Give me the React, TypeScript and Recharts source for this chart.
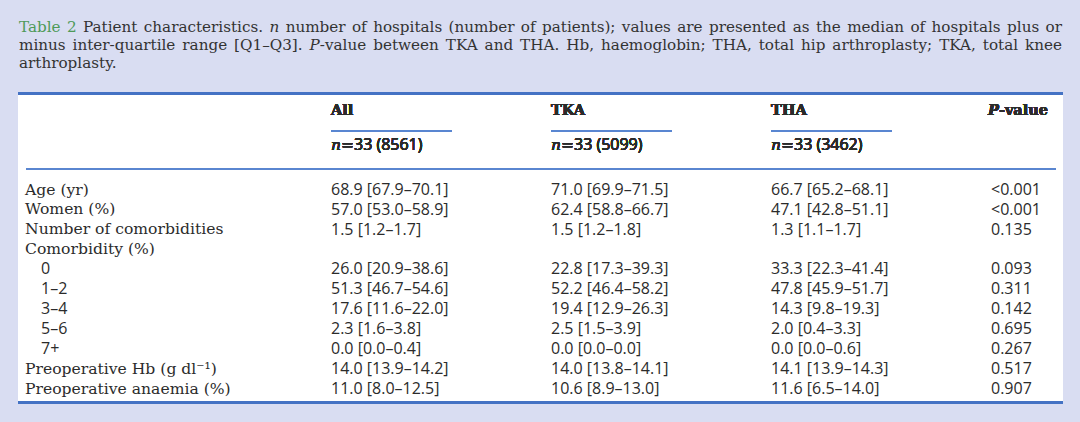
import { ScatterChart, Scatter, XAxis, YAxis } from "recharts";

// rows of the table (y categories)
const ROWS = [
  "Age (yr)",
  "Women (%)",
  "Number of comorbidities",
  "Comorbidity (%)",
  "0",
  "1–2",
  "3–4",
  "5–6",
  "7+",
  "Preoperative Hb (g dl⁻¹)",
  "Preoperative anaemia (%)",
];
const SUB_ROWS = ["0", "1–2", "3–4", "5–6", "7+"];

// columns (x categories)
const COLUMNS = ["All", "TKA", "THA", "P-value"];
const HOSPITALS = [33, 33, 33];
const PATIENTS = [8561, 5099, 3462];

// median [Q1, Q3]
type Iqr = [number, number, number] | null;
const ALL: Iqr[] = [
  [68.9, 67.9, 70.1],
  [57.0, 53.0, 58.9],
  [1.5, 1.2, 1.7],
  null,
  [26.0, 20.9, 38.6],
  [51.3, 46.7, 54.6],
  [17.6, 11.6, 22.0],
  [2.3, 1.6, 3.8],
  [0.0, 0.0, 0.4],
  [14.0, 13.9, 14.2],
  [11.0, 8.0, 12.5],
];
const TKA: Iqr[] = [
  [71.0, 69.9, 71.5],
  [62.4, 58.8, 66.7],
  [1.5, 1.2, 1.8],
  null,
  [22.8, 17.3, 39.3],
  [52.2, 46.4, 58.2],
  [19.4, 12.9, 26.3],
  [2.5, 1.5, 3.9],
  [0.0, 0.0, 0.0],
  [14.0, 13.8, 14.1],
  [10.6, 8.9, 13.0],
];
const THA: Iqr[] = [
  [66.7, 65.2, 68.1],
  [47.1, 42.8, 51.1],
  [1.3, 1.1, 1.7],
  null,
  [33.3, 22.3, 41.4],
  [47.8, 45.9, 51.7],
  [14.3, 9.8, 19.3],
  [2.0, 0.4, 3.3],
  [0.0, 0.0, 0.6],
  [14.1, 13.9, 14.3],
  [11.6, 6.5, 14.0],
];
const P_VALUES = ["<0.001", "<0.001", "0.135", "", "0.093", "0.311", "0.142", "0.695", "0.267", "0.517", "0.907"];

const SERIF = "'DejaVu Serif', serif";
const SANS = "'Open Sans', sans-serif";
const INK = "#2b2b2b";
const BLUE = "#4472c4";
const RULE = "#5a86d0";
const BG = "#d9ddf2";

const fmt = (v: Iqr) => (v ? `${v[0].toFixed(1)} [${v[1].toFixed(1)}–${v[2].toFixed(1)}]` : "");

const columnCells = [ALL, TKA, THA].map((vals, ci) =>
  vals.map((v, ri) => ({ col: COLUMNS[ci], row: ROWS[ri], text: fmt(v) }))
);
columnCells.push(P_VALUES.map((p, ri) => ({ col: COLUMNS[3], row: ROWS[ri], text: p })));

const CellText = (props: any) => (
  <text x={props.cx} y={props.cy} dy="0.36em" fontFamily={SANS} fontSize={16} fill={INK}>
    {props.payload.text}
  </text>
);

const RowTick = ({ y, payload }: any) => {
  const sub = SUB_ROWS.includes(payload.value);
  return (
    <text
      x={sub ? 23 : 7}
      y={y}
      dy="0.36em"
      fontFamily={sub ? SANS : SERIF}
      fontSize={sub ? 16 : 15.6}
      fill={INK}
    >
      {payload.value}
    </text>
  );
};

const HeaderTick = ({ x, payload }: any) => {
  const ci = COLUMNS.indexOf(payload.value);
  if (ci === 3) {
    return (
      <text x={x + 57} y={20} textAnchor="end" fontFamily={SERIF} fontSize={14.5} fontWeight="bold" fill={INK}>
        <tspan fontStyle="italic">P</tspan>-value
      </text>
    );
  }
  return (
    <g>
      <text x={x} y={20} fontFamily={SERIF} fontSize={14.5} fontWeight="bold" fill={INK}>
        {payload.value}
      </text>
      <line x1={x} x2={x + 121} y1={36} y2={36} stroke={RULE} strokeWidth={1.5} />
      <text x={x} y={55} fill={INK}>
        <tspan fontFamily={SERIF} fontStyle="italic" fontSize={15.5}>n</tspan>
        <tspan fontFamily={SERIF} fontSize={15.5}>=</tspan>
        <tspan fontFamily={SANS} fontSize={16}>{`${HOSPITALS[ci]} (${PATIENTS[ci]})`}</tspan>
      </text>
    </g>
  );
};

export default function App() {
  return (
    <div style={{ position: "absolute", left: 0, top: 0, width: 1080, height: 422, background: BG, overflow: "hidden" }}>
      <div
        style={{
          position: "absolute",
          left: 19,
          top: 18,
          width: 1043,
          fontFamily: SERIF,
          fontSize: 15.2,
          lineHeight: "18px",
          color: "#333",
        }}
      >
        <div style={{ whiteSpace: "nowrap", textAlign: "justify", textAlignLast: "justify" }}>
          <span style={{ color: "#4e9a58" }}>Table 2</span> Patient characteristics. <i>n</i> number of hospitals
          (number of patients); values are presented as the median of hospitals plus or
        </div>
        <div style={{ whiteSpace: "nowrap", textAlign: "justify", textAlignLast: "justify" }}>
          minus inter-quartile range [Q1–Q3]. <i>P</i>-value between TKA and THA. Hb, haemoglobin; THA, total hip
          arthroplasty; TKA, total knee
        </div>
        <div style={{ whiteSpace: "nowrap" }}>arthroplasty.</div>
      </div>

      <div
        style={{
          position: "absolute",
          left: 18,
          top: 92,
          width: 1045,
          height: 312,
          boxSizing: "border-box",
          background: "#ffffff",
          borderTop: `3px solid ${BLUE}`,
          borderBottom: `3px solid ${BLUE}`,
        }}
      />
      <div style={{ position: "absolute", left: 26, top: 168, width: 1030, height: 1.5, background: RULE }} />

      <div style={{ position: "absolute", left: 18, top: 95 }}>
        <ScatterChart width={1045} height={306} margin={{ top: 0, right: 72, bottom: 3, left: 0 }}>
          <XAxis
            xAxisId={0}
            dataKey="col"
            type="category"
            orientation="top"
            scale="point"
            allowDuplicatedCategory={false}
            axisLine={false}
            tickLine={false}
            tickSize={0}
            tickMargin={0}
            interval={0}
            height={84}
            tick={<HeaderTick />}
          />
          <YAxis
            yAxisId={0}
            dataKey="row"
            type="category"
            allowDuplicatedCategory={false}
            reversed
            axisLine={false}
            tickLine={false}
            interval={0}
            width={313}
            tick={<RowTick />}
          />
          {columnCells.map((cells, ci) => (
            <Scatter
              key={COLUMNS[ci]}
              data={cells}
              shape={<CellText />}
              isAnimationActive={false}
            />
          ))}
        </ScatterChart>
      </div>
    </div>
  );
}
